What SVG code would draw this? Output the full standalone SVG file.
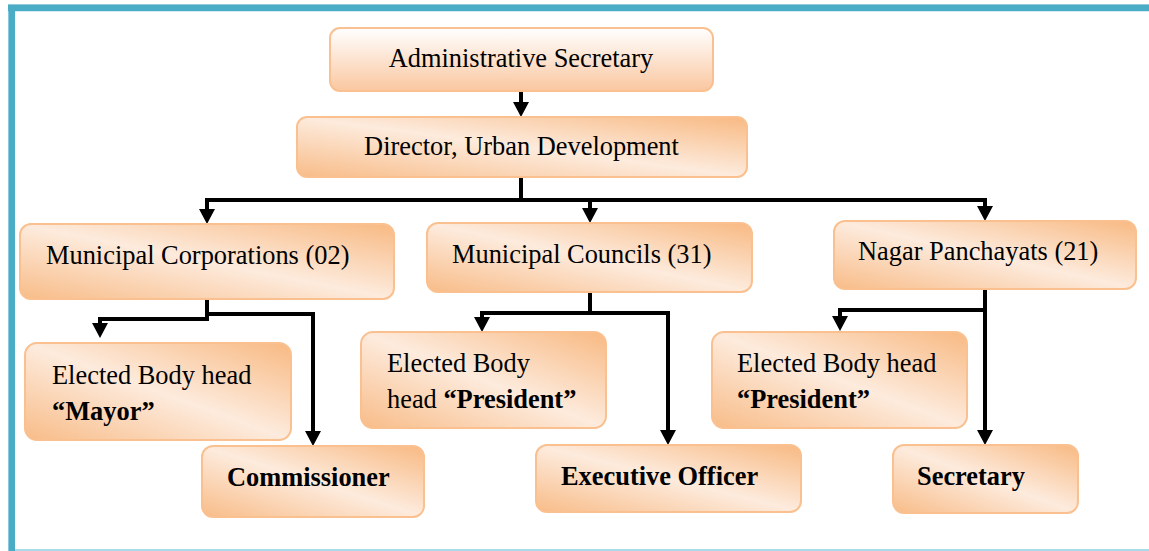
<svg xmlns="http://www.w3.org/2000/svg" width="1149" height="551" viewBox="0 0 1149 551">
<defs>
<linearGradient id="gTop" x1="0" y1="0" x2="0" y2="1">
<stop offset="0" stop-color="#FFFFFF"/>
<stop offset="1" stop-color="#FAC7A0"/>
</linearGradient>
<linearGradient id="gBox" x1="1" y1="0" x2="0" y2="1">
<stop offset="0" stop-color="#F8B982"/>
<stop offset="0.5" stop-color="#FDEBDD"/>
<stop offset="1" stop-color="#F8BC88"/>
</linearGradient>
<marker id="arr" markerUnits="userSpaceOnUse" markerWidth="16" markerHeight="16" refX="0" refY="8" orient="auto" viewBox="0 0 16 16">
<path d="M0,0 L15,8 L0,16 z" fill="#000"/>
</marker>
<style>
.box{stroke:#FAC08F;stroke-width:2;fill:url(#gBox)}
.top{stroke:#FAC08F;stroke-width:2;fill:url(#gTop)}
.b{font-weight:bold}
.c{fill:none;stroke:#000;stroke-width:4;stroke-linejoin:miter}
.a{fill:none;stroke:#000;stroke-width:4;marker-end:url(#arr)}
</style>
</defs>
<rect width="1149" height="551" fill="#FFFFFF"/>
<g id="frame">
<line x1="8" y1="5" x2="1149" y2="5" stroke="#A9D6E2" stroke-width="2"/>
<line x1="8" y1="8" x2="1149" y2="8" stroke="#4BACC6" stroke-width="6.5"/>
<line x1="11.7" y1="5" x2="11.7" y2="551" stroke="#4BACC6" stroke-width="6.7"/>
<line x1="15" y1="550" x2="1149" y2="550" stroke="#A8DCE6" stroke-width="2"/>
</g>
<g id="connectors">
<line class="a" x1="521" y1="91" x2="521" y2="102"/>
<path class="c" d="M521,177 V200 M205,200 H987"/>
<line class="a" x1="207" y1="200" x2="207" y2="209"/>
<line class="a" x1="590" y1="200" x2="590" y2="208"/>
<line class="a" x1="985" y1="200" x2="985" y2="206"/>
<path class="c" d="M207,299 V321"/>
<path class="a" d="M207,319 H100 V323"/>
<path class="a" d="M207,314 H313 V431"/>
<path class="c" d="M590,292 V315"/>
<path class="a" d="M590,313 H482 V317"/>
<path class="a" d="M590,313 H668 V430"/>
<path class="a" d="M985,289 V430"/>
<path class="a" d="M985,310 H840 V316"/>
</g>
<g font-family="Liberation Serif, Times New Roman, serif" font-size="26.4" fill="#000">
<g id="n-admin">
<rect class="top" x="330" y="28" width="383" height="63" rx="10"/>
<text x="521" y="67" text-anchor="middle">Administrative Secretary</text>
</g>
<g id="n-director">
<rect class="box" x="297" y="117" width="450" height="60" rx="10"/>
<text x="521.5" y="155" text-anchor="middle">Director, Urban Development</text>
</g>
<g id="n-corporations">
<rect class="box" x="20" y="224" width="374" height="75" rx="11"/>
<text x="46" y="264">Municipal Corporations (02)</text>
</g>
<g id="n-councils">
<rect class="box" x="427" y="223" width="325" height="69" rx="11"/>
<text x="452" y="263">Municipal Councils (31)</text>
</g>
<g id="n-panchayats">
<rect class="box" x="834" y="221" width="302" height="68" rx="11"/>
<text x="858" y="260">Nagar Panchayats (21)</text>
</g>
<g id="n-mayor">
<rect class="box" x="25" y="343" width="266" height="97" rx="12"/>
<text x="52" y="384">Elected Body head</text>
<text class="b" x="52" y="420">“Mayor”</text>
</g>
<g id="n-commissioner">
<rect class="box" x="202" y="446" width="222" height="71" rx="11"/>
<text class="b" x="227" y="486">Commissioner</text>
</g>
<g id="n-council-president">
<rect class="box" x="361" y="332" width="245" height="96" rx="12"/>
<text x="387" y="372">Elected Body</text>
<text x="387" y="408">head <tspan class="b">“President”</tspan></text>
</g>
<g id="n-executive">
<rect class="box" x="536" y="445" width="265" height="67" rx="11"/>
<text class="b" x="561" y="485">Executive Officer</text>
</g>
<g id="n-np-president">
<rect class="box" x="712" y="332" width="255" height="96" rx="12"/>
<text x="737" y="372">Elected Body head</text>
<text class="b" x="737" y="408">“President”</text>
</g>
<g id="n-secretary">
<rect class="box" x="893" y="445" width="185" height="68" rx="11"/>
<text class="b" x="917" y="485">Secretary</text>
</g>
</g>
</svg>
